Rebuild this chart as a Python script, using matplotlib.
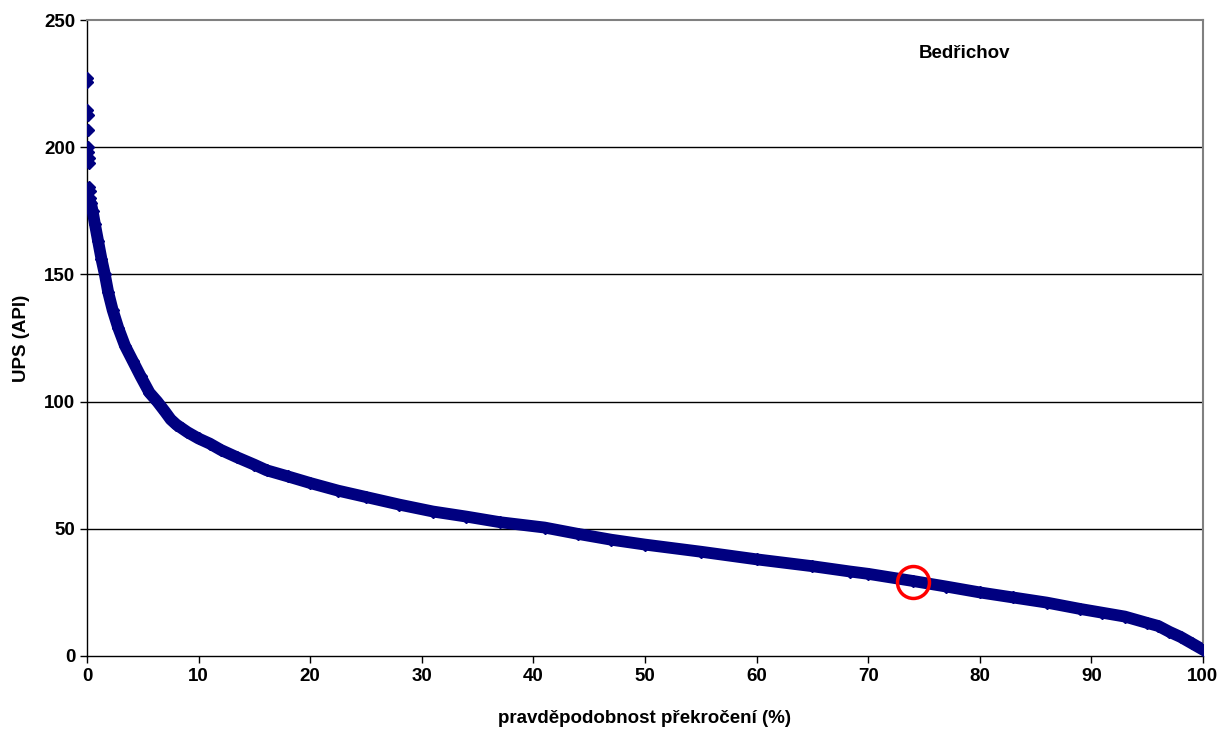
import matplotlib
matplotlib.use("Agg")
import matplotlib.pyplot as plt

plt.rcParams['font.family'] = ['Liberation Sans', 'DejaVu Sans']
plt.rcParams['font.weight'] = 'bold'

# sparse extreme values at the very top of the curve
head_x = [0.0, 0.02, 0.04, 0.06, 0.08, 0.10, 0.12, 0.14, 0.16, 0.20, 0.24, 0.30]
head_y = [227.2, 225.6, 214.6, 212.7, 206.8, 200.0, 198.0, 195.8, 193.8, 184.4, 182.8, 180.0]

# dense part of the exceedance curve
prob = [0.35, 0.5, 0.7, 1.0, 1.3, 1.6, 1.9, 2.3, 2.8, 3.4, 4.1, 4.8, 5.6, 6.3,
        7.0, 7.5, 8.0, 8.5, 9.0, 10.0, 11.0, 12.0, 13.4, 15.0, 16.1, 18.0,
        20.0, 22.5, 25.0, 28.0, 31.0, 34.0, 37.0, 41.0, 44.0, 47.0, 50.0, 55.0,
        60.0, 65.0, 68.4, 70.0, 74.0, 77.0, 80.0, 83.0, 86.0, 89.0, 91.0, 93.0,
        95.0, 96.0, 97.0, 98.0, 99.0, 100.0]
ups = [178.0, 175.0, 170.0, 163.0, 156.0, 150.0, 143.0, 136.0, 129.0, 122.0,
       116.0, 110.0, 103.5, 100.0, 96.0, 93.0, 91.0, 89.5, 88.0, 85.5, 83.5,
       81.0, 78.2, 75.2, 73.0, 70.6, 68.0, 65.0, 62.5, 59.5, 56.8, 54.8, 52.6,
       50.5, 48.0, 45.7, 43.8, 41.0, 38.0, 35.3, 33.2, 32.3, 29.5, 27.3, 25.0,
       23.0, 21.0, 18.5, 17.0, 15.5, 13.0, 11.8, 9.5, 7.5, 5.0, 2.5]

# highlighted point
mark_x = [74.0]
mark_y = [28.9]

navy = '#000080'
fs = 13.5

fig = plt.figure(figsize=(12.2, 7.31), dpi=100)
ax = fig.add_axes([0.0713, 0.1026, 0.9147, 0.870])

for g in [50, 100, 150, 200]:
    ax.axhline(g, color='black', lw=1.0, zorder=1)

ax.plot(prob, ups, color=navy, lw=8.5, solid_capstyle='round',
        solid_joinstyle='round', zorder=3)
ax.plot(head_x + prob, head_y + ups, ls='none', marker='D', ms=6.5,
        color=navy, zorder=3)
ax.plot(mark_x, mark_y, ls='none', marker='o', ms=23, mfc='none',
        mec='#ff0000', mew=2.5, zorder=4)

ax.set_xlim(0, 100)
ax.set_ylim(0, 250)
ax.set_xticks(range(0, 101, 10))
ax.set_yticks(range(0, 251, 50))
ax.tick_params(direction='out', length=5, width=1, labelsize=fs, colors='black')
for lab in ax.get_xticklabels() + ax.get_yticklabels():
    lab.set_fontweight('bold')

for s in ['left', 'bottom']:
    ax.spines[s].set_color('black')
    ax.spines[s].set_linewidth(1.0)
for s in ['top', 'right']:
    ax.spines[s].set_color('#808080')
    ax.spines[s].set_linewidth(1.5)

ax.set_xlabel('pravděpodobnost překročení (%)', fontsize=fs, fontweight='bold', labelpad=18)
ax.set_ylabel('UPS (API)', fontsize=fs, fontweight='bold', labelpad=10)
ax.text(74.5, 237, 'Bedřichov', fontsize=fs, fontweight='bold', va='center', ha='left')

fig.savefig('out.png', dpi=100)
